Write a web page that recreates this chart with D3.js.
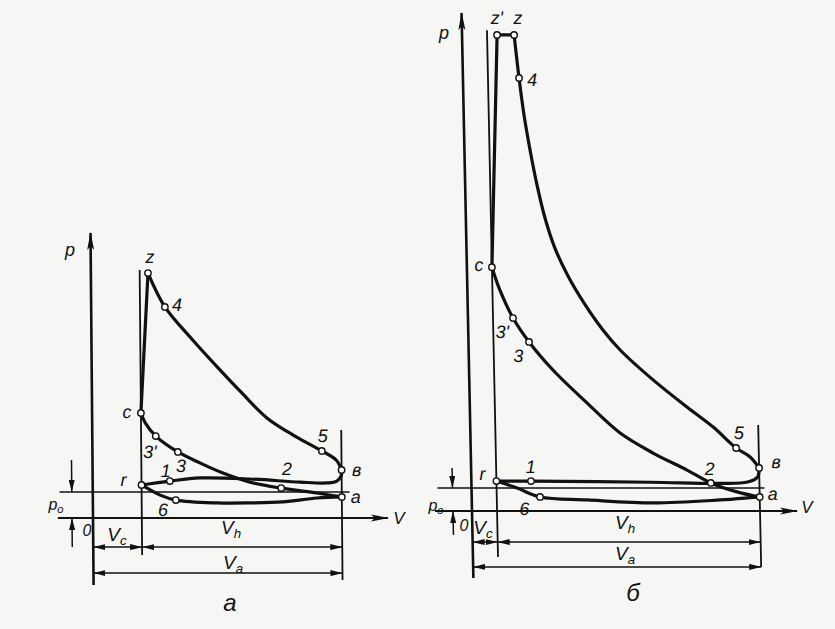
<!DOCTYPE html>
<html>
<head>
<meta charset="utf-8">
<script src="https://cdn.jsdelivr.net/npm/d3@7"></script>
<style>
    body { margin: 0; background: #f6f6f4; }
    svg { display: block; }
    text { font-family: "Liberation Sans", sans-serif; font-style: italic; fill: #111; }
</style>
</head>
<body>
<div id="chart"></div>
<script>
// diagram "a" : V in units of Vc, p in units of p0
const aCombustion = [[1.0, 4.04], [1.17, 9.42]];
const aExpansion = [[1.17, 9.42], [1.51, 8.12], [2.02, 6.96], [2.57, 5.81], [3.09, 4.77], [3.58, 3.85],
    [4.15, 3.15], [4.70, 2.58], [4.99, 2.23], [5.1, 1.85]];
const aExhaust = [[5.1, 1.85], [5.09, 1.62], [5.0, 1.42], [4.8, 1.35], [4.25, 1.38], [3.22, 1.5],
    [2.2, 1.54], [1.58, 1.42], [1.0, 1.27]];
const aIntake = [[1.0, 1.27], [1.38, 0.88], [1.7, 0.69], [2.54, 0.58], [3.22, 0.58], [3.89, 0.62],
    [4.59, 0.77], [5.1, 0.81]];
const aCompression = [[5.1, 0.81], [4.59, 0.96], [3.86, 1.15], [3.22, 1.38], [2.67, 1.73], [2.2, 2.12],
    [1.75, 2.54], [1.3, 3.15], [1.1, 3.62], [1.0, 4.04]];
const aPointNames = ['z', '4', 'c', "3'", '3', '5', 'в', 'a', 'r', '1', '2', '6'];
const aPoints = [[1.17, 9.42], [1.51, 8.12], [1.0, 4.04], [1.3, 3.15], [1.75, 2.54], [4.70, 2.58],
    [5.1, 1.85], [5.1, 0.81], [1.0, 1.27], [1.58, 1.42], [3.86, 1.15], [1.7, 0.69]];

// diagram "б"
const bCombustion = [[1.0, 10.6], [1.40, 20.7], [2.08, 20.7]];
const bExpansion = [[2.08, 20.7], [2.24, 18.83], [2.41, 17.2], [2.62, 15.7], [2.87, 14.17], [3.16, 12.74],
    [3.53, 11.43], [4.03, 10.22], [4.65, 9.04], [5.38, 7.87], [6.05, 7.0], [7.34, 5.7], [8.67, 4.52],
    [9.7, 3.65], [10.6, 2.74], [11.15, 2.35], [11.5, 1.87]];
const bExhaust = [[11.5, 1.87], [11.43, 1.48], [11.03, 1.26], [9.95, 1.2], [7.15, 1.25], [2.38, 1.3], [1.0, 1.3]];
const bIntake = [[1.0, 1.3], [1.82, 1.0], [2.73, 0.61], [4.61, 0.48], [7.25, 0.35], [9.92, 0.48],
    [11.24, 0.59], [11.5, 0.61]];
const bCompression = [[11.5, 0.61], [10.6, 0.83], [9.56, 1.22], [8.62, 1.78], [7.28, 2.52], [5.98, 3.39],
    [4.68, 4.7], [3.35, 6.13], [2.42, 7.35], [1.8, 8.39], [1.3, 9.6], [1.0, 10.6]];
const bPointNames = ["z'", 'z', '4', 'c', "3'", '3', '5', 'в', 'a', 'r', '1', '2', '6'];
const bPoints = [[1.40, 20.7], [2.08, 20.7], [2.24, 18.83], [1.0, 10.6], [1.8, 8.39], [2.42, 7.35],
    [10.6, 2.74], [11.5, 1.87], [11.5, 0.61], [1.0, 1.3], [2.38, 1.3], [9.56, 1.22], [2.73, 0.61]];

const w = 835;
const h = 629;
const ink = '#111';

const svg = d3.select('#chart')
    .append('svg')
    .attr('width', w)
    .attr('height', h);
svg.append('rect').attr('width', w).attr('height', h).attr('fill', '#f6f6f4');

// arrow heads
const defs = svg.append('defs');
defs.append('marker')
    .attr('id', 'axisArrow')
    .attr('viewBox', '0 0 18 8')
    .attr('refX', 17).attr('refY', 4)
    .attr('markerWidth', 18).attr('markerHeight', 8)
    .attr('markerUnits', 'userSpaceOnUse')
    .attr('orient', 'auto')
    .append('path').attr('d', 'M0,0.5 L18,4 L0,7.5 L4,4 Z').attr('fill', ink);
defs.append('marker')
    .attr('id', 'dimArrow')
    .attr('viewBox', '0 0 12 6')
    .attr('refX', 12).attr('refY', 3)
    .attr('markerWidth', 12).attr('markerHeight', 6)
    .attr('markerUnits', 'userSpaceOnUse')
    .attr('orient', 'auto-start-reverse')
    .append('path').attr('d', 'M0,0 L12,3 L0,6 Z').attr('fill', ink);

function diagram(o) {
    // the scan is slightly sheared, so the whole diagram is skewed round its V axis
    const g = svg.append('g')
        .attr('transform', `translate(0,${o.base}) skewX(${o.skew}) translate(0,${-o.base})`);
    const x = d3.scaleLinear().domain([0, o.Va]).range(o.xRange);
    const y = d3.scaleLinear().domain([0, 1]).range([o.base, o.p0y]);

    const seg = (x1, y1, x2, y2, width) => g.append('line')
        .attr('x1', x1).attr('y1', y1).attr('x2', x2).attr('y2', y2)
        .attr('stroke', ink).attr('stroke-width', width);

    // axes
    seg(x(0), y(o.pAxis[0]), x(0), y(o.pAxis[1]), 2.6).attr('marker-end', 'url(#axisArrow)');
    seg(x(o.vAxis[0]), y(0), x(o.vAxis[1]), y(0), 2).attr('marker-end', 'url(#axisArrow)');
    // atmospheric pressure line, Vc and Va lines
    seg(x(o.p0Line[0]), y(1), x(o.p0Line[1]), y(1), 1.5);
    seg(x(1), y(o.vcLine[0]), x(1), y(o.vcLine[1]), 1.8);
    seg(x(o.Va), y(o.vaLine[0]), x(o.Va), y(o.vaLine[1]), 1.8);

    // dimension lines
    seg(x(0), y(o.dimRow1), x(1), y(o.dimRow1), 1.5)
        .attr('marker-start', 'url(#dimArrow)').attr('marker-end', 'url(#dimArrow)');
    seg(x(1), y(o.dimRow1), x(o.Va), y(o.dimRow1), 1.5)
        .attr('marker-start', 'url(#dimArrow)').attr('marker-end', 'url(#dimArrow)');
    seg(x(0), y(o.dimRow2), x(o.Va), y(o.dimRow2), 1.5)
        .attr('marker-start', 'url(#dimArrow)').attr('marker-end', 'url(#dimArrow)');
    seg(x(o.paX), y(o.paTop), x(o.paX), y(1), 1.5).attr('marker-end', 'url(#dimArrow)');
    seg(x(o.paX), y(o.paBottom), x(o.paX), y(0), 1.5).attr('marker-end', 'url(#dimArrow)');

    // cycle curves
    const straight = d3.line().x(d => x(d[0])).y(d => y(d[1]));
    const smooth = d3.line().x(d => x(d[0])).y(d => y(d[1])).curve(d3.curveCatmullRom.alpha(0.5));
    g.append('path').attr('d', straight(o.combustion))
        .attr('fill', 'none').attr('stroke', ink).attr('stroke-width', 3.2).attr('stroke-linejoin', 'round');
    [o.expansion, o.exhaust, o.intake, o.compression].forEach(c => {
        g.append('path').attr('d', smooth(c))
            .attr('fill', 'none').attr('stroke', ink).attr('stroke-width', 3.2).attr('stroke-linecap', 'round');
    });

    // points and their labels
    g.selectAll('circle.pt')
        .data(o.points)
        .enter()
        .append('circle')
        .attr('class', 'pt')
        .attr('cx', d => x(d[0]))
        .attr('cy', d => y(d[1]))
        .attr('r', 3.2)
        .attr('fill', '#fff')
        .attr('stroke', ink)
        .attr('stroke-width', 1.4);
    g.selectAll('text.pt')
        .data(o.points)
        .enter()
        .append('text')
        .attr('class', 'pt')
        .attr('x', (d, i) => x(d[0]) + o.offsets[o.names[i]][0])
        .attr('y', (d, i) => y(d[1]) + o.offsets[o.names[i]][1])
        .attr('text-anchor', 'middle')
        .attr('dominant-baseline', 'central')
        .attr('font-size', 18)
        .text((d, i) => o.names[i]);

    // free annotations
    const note = (t, sub, px, py, size) => {
        const el = svg.append('text')
            .attr('x', px).attr('y', py)
            .attr('text-anchor', 'middle')
            .attr('dominant-baseline', 'central')
            .attr('font-size', size)
            .text(t);
        if (sub) {
            el.append('tspan').attr('font-size', size * 0.7).attr('dy', size * 0.3).text(sub);
        }
    };
    note('p', null, o.pLabel[0], o.pLabel[1], 18);
    note('p', 'o', o.p0Label[0], o.p0Label[1], 16);
    note('0', null, o.zeroLabel[0], o.zeroLabel[1], 16);
    note('V', 'c', o.vcLabel[0], o.vcLabel[1], 19);
    note('V', 'h', o.vhLabel[0], o.vhLabel[1], 19);
    note('V', 'a', o.vaLabel[0], o.vaLabel[1], 19);
    svg.append('text')
        .attr('x', o.vLabel[0]).attr('y', o.vLabel[1])
        .attr('text-anchor', 'middle').attr('dominant-baseline', 'central')
        .attr('font-size', 17).attr('font-style', 'normal')
        .text('V');
    note(o.caption, null, o.captionPos[0], o.captionPos[1], 24);
}

diagram({
    base: 518, p0y: 492, xRange: [93, 342], Va: 5.1, skew: 0.5,
    pAxis: [-2.58, 10.96], vAxis: [-0.72, 6.04], p0Line: [-0.68, 5.26],
    vcLine: [-1.42, 9.54], vaLine: [-2.38, 3.38],
    dimRow1: -1.12, dimRow2: -2.12, paX: -0.43, paTop: 2.23, paBottom: -1.12,
    combustion: aCombustion, expansion: aExpansion, exhaust: aExhaust,
    intake: aIntake, compression: aCompression,
    points: aPoints, names: aPointNames,
    offsets: {
        'z': [2, -16], '4': [12, -2], 'c': [-14, -1], "3'": [-6, 16], '3': [3, 14], '5': [1, -15],
        'в': [15, 0], 'a': [14, 0], 'r': [-18, -5], '1': [-4, -10], '2': [6, -19], '6': [-13, 10]
    },
    pLabel: [70, 250], p0Label: [56, 504], zeroLabel: [87, 530],
    vcLabel: [117, 534], vhLabel: [231, 527], vaLabel: [233, 562], vLabel: [399, 518],
    caption: 'a', captionPos: [230, 602]
});

diagram({
    base: 511, p0y: 488, xRange: [472, 760], Va: 11.5, skew: 1.2,
    pAxis: [-2.91, 21.65], vAxis: [-1.48, 12.98], p0Line: [-1.36, 11.7],
    vcLine: [-2.0, 20.9], vaLine: [-2.43, 3.74],
    dimRow1: -1.35, dimRow2: -2.43, paX: -0.76, paTop: 1.87, paBottom: -1.04,
    combustion: bCombustion, expansion: bExpansion, exhaust: bExhaust,
    intake: bIntake, compression: bCompression,
    points: bPoints, names: bPointNames,
    offsets: {
        "z'": [0, -17], 'z': [4, -17], '4': [13, 2], 'c': [-13, -2], "3'": [-11, 14], '3': [-11, 14],
        '5': [3, -15], 'в': [17, -6], 'a': [13, -3], 'r': [-14, -7], '1': [0, -14], '2': [-1, -14], '6': [-16, 12]
    },
    pLabel: [444, 33], p0Label: [436, 505], zeroLabel: [464, 525],
    vcLabel: [483, 527], vhLabel: [625, 522], vaLabel: [625, 553], vLabel: [807, 507],
    caption: 'б', captionPos: [633, 592]
});
</script>
</body>
</html>
